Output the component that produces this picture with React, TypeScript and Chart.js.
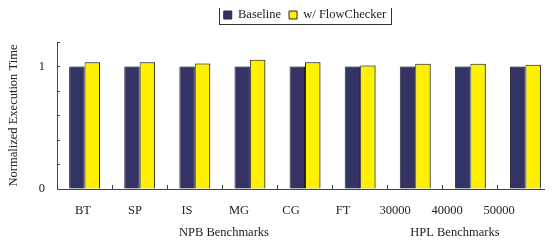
import React, { useEffect, useRef } from 'react';
import { Chart, registerables } from 'chart.js';

Chart.register(...registerables);

// ---- data ----
const CATEGORIES = ['BT', 'SP', 'IS', 'MG', 'CG', 'FT', '30000', '40000', '50000'];
const BASELINE = [1, 1, 1, 1, 1, 1, 1, 1, 1];
const FLOWCHECKER = [1.035, 1.035, 1.024, 1.055, 1.035, 1.008, 1.022, 1.022, 1.014];
const SERIES_NAMES = ['Baseline', 'w/ FlowChecker'];
const GROUP_LABELS = ['NPB Benchmarks', 'HPL Benchmarks'];
const Y_LABELED_TICKS = [0, 1];
const Y_TITLE = 'Normalized Execution Time';

// ---- layout constants (not data) ----
const LABEL_START = -0.03;
const LABEL_PITCH = 0.944;
const GROUP_POS = [2.53, 6.72];
const TOP_PAD = 11.5;
const LEGEND_SHIFT = 10.75;

const FONT_FAMILY = "'Liberation Serif', 'Times New Roman', Times, serif";
const TEXT = '#222222';
const AXIS = '#444444';

const legendFrame = {
  id: 'legendFrame',
  afterLayout(chart: any) {
    const lg = chart.legend;
    if (!lg) return;
    lg.top -= LEGEND_SHIFT;
    lg.bottom -= LEGEND_SHIFT;
  },
  beforeDatasetsDraw(chart: any) {
    const ctx = chart.ctx;
    ctx.save();
    ctx.shadowColor = 'rgba(0,0,0,0.3)';
    ctx.shadowOffsetX = 1.5;
    ctx.shadowOffsetY = 0;
    ctx.shadowBlur = 0;
  },
  afterDatasetsDraw(chart: any) {
    chart.ctx.restore();
  },
  afterDraw(chart: any) {
    const lg = chart.legend;
    if (!lg || !lg.legendHitBoxes || !lg.legendHitBoxes.length) return;
    const hb = lg.legendHitBoxes;
    let l = Infinity, r = -Infinity, t = Infinity, b = -Infinity;
    hb.forEach((h: any) => {
      l = Math.min(l, h.left);
      r = Math.max(r, h.left + h.width);
      t = Math.min(t, h.top);
      b = Math.max(b, h.top + h.height);
    });
    const cy = (t + b) / 2;
    const ctx = chart.ctx;
    ctx.save();
    ctx.strokeStyle = '#333333';
    ctx.lineWidth = 1;
    ctx.strokeRect(Math.round(l - 5) + 0.5, Math.round(cy - 11) + 0.5, Math.round(r - l + 9), 20);
    ctx.restore();
  },
};

export default function App() {
  const ref = useRef<HTMLCanvasElement | null>(null);

  useEffect(() => {
    if (!ref.current) return;
    const font = { family: FONT_FAMILY, size: 12.5 };
    const chart = new Chart(ref.current, {
      type: 'bar',
      data: {
        labels: CATEGORIES,
        datasets: [
          {
            label: SERIES_NAMES[0],
            data: BASELINE,
            backgroundColor: '#333366',
            borderColor: '#2a2a3a',
            borderWidth: 1,
            xAxisID: 'x',
            yAxisID: 'y',
            categoryPercentage: 0.56,
            barPercentage: 1.0,
          },
          {
            label: SERIES_NAMES[1],
            data: FLOWCHECKER,
            backgroundColor: '#FFF000',
            borderColor: '#2a2a2a',
            borderWidth: 1,
            xAxisID: 'x',
            yAxisID: 'y',
            categoryPercentage: 0.56,
            barPercentage: 1.0,
          },
        ],
      },
      options: {
        responsive: false,
        animation: false,
        devicePixelRatio: 1,
        layout: { padding: { top: TOP_PAD, left: 0, right: 0, bottom: 0 } },
        plugins: {
          tooltip: { enabled: false },
          legend: {
            position: 'top',
            fullSize: false,
            labels: {
              boxWidth: 8,
              boxHeight: 8,
              padding: 8,
              color: TEXT,
              font,
            },
          },
        },
        scales: {
          x: {
            type: 'category',
            position: 'bottom',
            offset: true,
            weight: 0,
            grid: { offset: true, drawOnChartArea: false, tickLength: -4, color: AXIS },
            border: { color: AXIS },
            ticks: { display: false },
            afterFit: (s: any) => { s.height = 0; },
          },
          x2: {
            type: 'linear',
            position: 'bottom',
            weight: 1,
            offset: false,
            bounds: 'data',
            min: -0.5,
            max: 8.5,
            grid: { display: false, drawTicks: false, offset: false },
            border: { display: false },
            afterBuildTicks: (s: any) => {
              s.ticks = CATEGORIES.map((_, i) => ({ value: LABEL_START + i * LABEL_PITCH }));
            },
            ticks: {
              autoSkip: false,
              maxRotation: 0,
              padding: 14,
              color: TEXT,
              font,
              callback: (_v: any, i: number) => CATEGORIES[i],
            },
            afterFit: (s: any) => { s.height = 30; },
          },
          x3: {
            type: 'linear',
            position: 'bottom',
            weight: 2,
            offset: false,
            bounds: 'data',
            min: -0.5,
            max: 8.5,
            grid: { display: false, drawTicks: false, offset: false },
            border: { display: false },
            afterBuildTicks: (s: any) => {
              s.ticks = GROUP_LABELS.map((_, i) => ({ value: GROUP_POS[i] }));
            },
            ticks: {
              autoSkip: false,
              maxRotation: 0,
              padding: 6,
              color: TEXT,
              font,
              callback: (_v: any, i: number) => GROUP_LABELS[i],
            },
            afterFit: (s: any) => { s.height = 27; },
          },
          y: {
            type: 'linear',
            position: 'left',
            min: 0,
            max: 1.2,
            grid: { drawOnChartArea: false, tickLength: -3, color: AXIS },
            border: { color: AXIS },
            ticks: {
              stepSize: 0.2,
              padding: 15,
              color: TEXT,
              font,
              callback: (v: any) => {
                const n = Number(v);
                const hit = Y_LABELED_TICKS.find((t) => Math.abs(t - n) < 1e-6);
                return hit === undefined ? '' : String(hit);
              },
            },
            title: {
              display: true,
              text: Y_TITLE,
              color: TEXT,
              font,
              padding: { top: 6, bottom: 0 },
            },
            afterFit: (s: any) => { s.width = 57; },
          },
        },
      } as any,
      plugins: [legendFrame],
    });
    return () => chart.destroy();
  }, []);

  return (
    <div style={{ margin: -8, width: 553, height: 246, background: '#fff' }}>
      <canvas ref={ref} width={553} height={246} style={{ display: 'block' }} />
    </div>
  );
}
